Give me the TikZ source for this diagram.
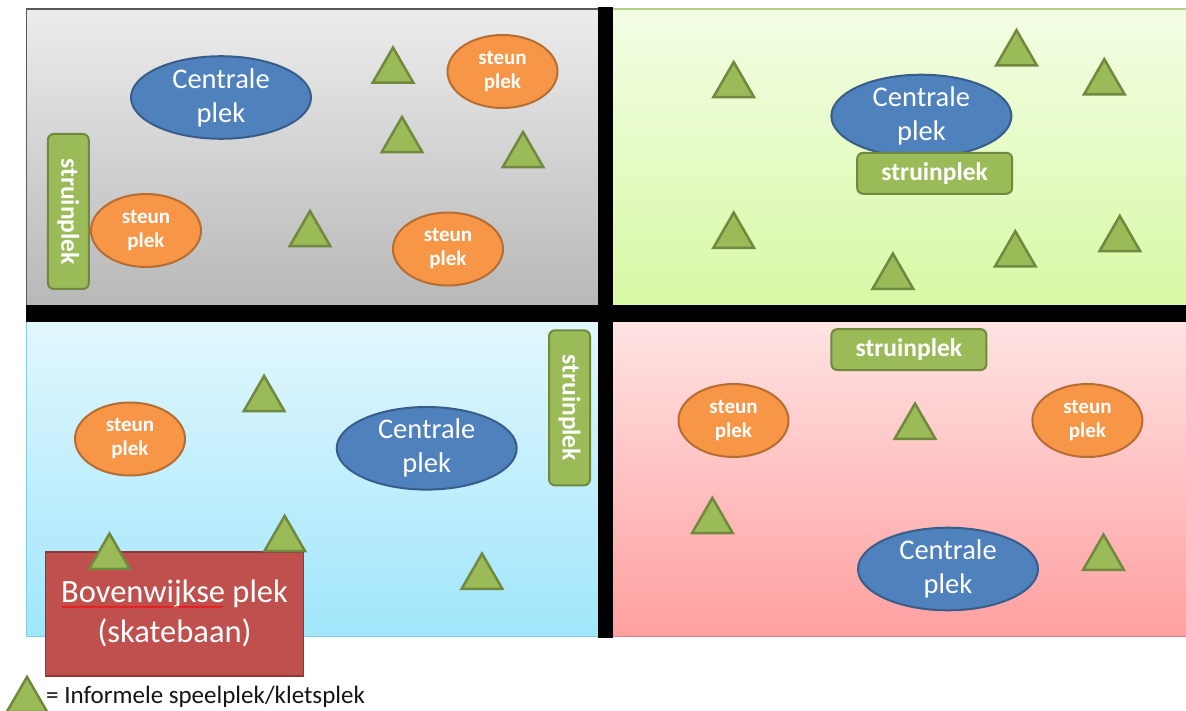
\documentclass[tikz,border=0pt]{standalone}
\usepackage{fontspec}
\setmainfont{Carlito}
\usetikzlibrary{shapes.geometric,decorations.pathmorphing}
\definecolor{cblue}{HTML}{4F81BD}
\definecolor{cblueb}{HTML}{385D8A}
\definecolor{corange}{HTML}{F79646}
\definecolor{corangeb}{HTML}{B66D31}
\definecolor{cgreen}{HTML}{9BBB59}
\definecolor{cgreenb}{HTML}{71893F}
\definecolor{cred}{HTML}{C0504D}
\definecolor{credb}{HTML}{8C3836}
\tikzset{
  centrale/.style={ellipse, draw=cblueb, fill=cblue, line width=2pt, text=white, align=center,
    font=\fontsize{28.5}{34}\selectfont, inner sep=0pt, minimum width=180pt, minimum height=73pt},
  steun/.style={ellipse, draw=corangeb, fill=corange, line width=2pt, text=white, align=center,
    font=\fontsize{21}{24}\selectfont\bfseries, inner sep=0pt, minimum width=110pt, minimum height=73pt},
  struin/.style={rectangle, rounded corners=6pt, draw=cgreenb, fill=cgreen, line width=2pt, text=white,
    font=\fontsize{25.5}{28}\selectfont\bfseries, inner sep=0pt, minimum width=155pt, minimum height=41pt},
  tri/.style={regular polygon, regular polygon sides=3, draw=cgreenb, fill=cgreen, line width=2.5pt,
    line join=miter, inner sep=0pt, outer sep=0pt, minimum size=47pt},
  bovenbox/.style={rectangle, draw=credb, fill=cred, line width=1.5pt, text=white, align=center,
    font=\fontsize{32.5}{40}\selectfont, inner sep=0pt, minimum width=258pt, minimum height=124pt},
}
\begin{document}
\begin{tikzpicture}[x=1pt,y=-1pt]
\useasboundingbox (0,0) rectangle (1186,711);
% quadrants
\shade[top color={rgb,255:red,236;green,236;blue,236}, bottom color={rgb,255:red,184;green,184;blue,184}]
  (26.5,9) rectangle (598,305);
\draw[color={rgb,255:red,89;green,89;blue,89}, line width=1.5pt] (26.5,305) -- (26.5,9) -- (598,9);
\shade[top color={rgb,255:red,243;green,253;blue,228}, bottom color={rgb,255:red,216;green,249;blue,165}]
  (612,9) rectangle (1186,305);
\draw[color={rgb,255:red,181;green,208;blue,138}, line width=1.5pt] (612,9) -- (1186,9);
\shade[top color={rgb,255:red,226;green,247;blue,254}, bottom color={rgb,255:red,160;green,230;blue,251}]
  (26.5,322) rectangle (598,636.5);
\draw[color={rgb,255:red,127;green,207;blue,230}, line width=1.5pt] (26.5,322) -- (26.5,636.5) -- (598,636.5);
\shade[top color={rgb,255:red,255;green,227;blue,227}, bottom color={rgb,255:red,255;green,159;blue,159}]
  (612,322) rectangle (1186,636.5);
\draw[color={rgb,255:red,224;green,128;blue,128}, line width=1.5pt] (612,636.5) -- (1186,636.5);
% black cross
\fill[black] (598,7.5) rectangle (612.5,637.5);
\fill[black] (26,305) rectangle (1186,322.5);

% top-left
\node[centrale] (c1) at (221,97.5) {Centrale\\plek};
\node[steun] (s1) at (502.5,71.5) {steun\\plek};
\node[steun] (s2) at (146,230.5) {steun\\plek};
\node[steun] (s3) at (448,249) {steun\\plek};
\node[struin, rotate=-90] (r1) at (68.3,211.5) {struinplek};
\node[tri] (t1) at (393,71) {};
\node[tri] (t2) at (402,140.5) {};
\node[tri] (t3) at (523,155.5) {};
\node[tri] (t4) at (310,234.5) {};

% top-right
\node[centrale, minimum height=71pt] (c2) at (921.4,116) {Centrale\\plek};
\node[struin] (r2) at (934.7,173.3) {struinplek};
\node[tri] (t5) at (733.7,85.5) {};
\node[tri] (t6) at (1016.5,53.7) {};
\node[tri] (t7) at (1104.3,82.7) {};
\node[tri] (t8) at (733.7,236.1) {};
\node[tri] (t9) at (892.9,277.1) {};
\node[tri] (t10) at (1015.3,254.7) {};
\node[tri] (t11) at (1119.8,239.4) {};

% bottom-left
\node[steun] (s4) at (130,439) {steun\\plek};
\node[centrale] (c3) at (426.7,448.3) {Centrale\\plek};
\node[struin, rotate=-90] (r3) at (569.5,407.8) {struinplek};
\node[bovenbox] (b1) at (174.6,613.9) {Bovenwijkse plek\\(skatebaan)};
\draw[red, line width=0.6pt, decorate, decoration={snake, amplitude=0.8pt, segment length=3pt}]
  ([xshift=-113pt,yshift=7pt]b1.center) -- ([xshift=49pt,yshift=7pt]b1.center);
\node[tri] (t12) at (264.1,399.4) {};
\node[tri] (t13) at (109.5,557.1) {};
\node[tri] (t14) at (284.7,539.4) {};
\node[tri] (t15) at (482,577.1) {};

% bottom-right
\node[struin] (r4) at (908.9,349.6) {struinplek};
\node[steun] (s5) at (733.5,420.5) {steun\\plek};
\node[steun] (s6) at (1087.4,420.5) {steun\\plek};
\node[centrale] (c4) at (948,569) {Centrale\\plek};
\node[tri] (t16) at (915,427.1) {};
\node[tri] (t17) at (712.4,521.4) {};
\node[tri] (t18) at (1103.5,558.1) {};

% legend
\node[tri] (tl) at (27,700.4) {};
\node[anchor=west, inner sep=0pt, font=\fontsize{25}{28}\selectfont, text={rgb,255:red,20;green,20;blue,20}]
  (lg) at (46,697) {= Informele speelplek/kletsplek};
\end{tikzpicture}
\end{document}
